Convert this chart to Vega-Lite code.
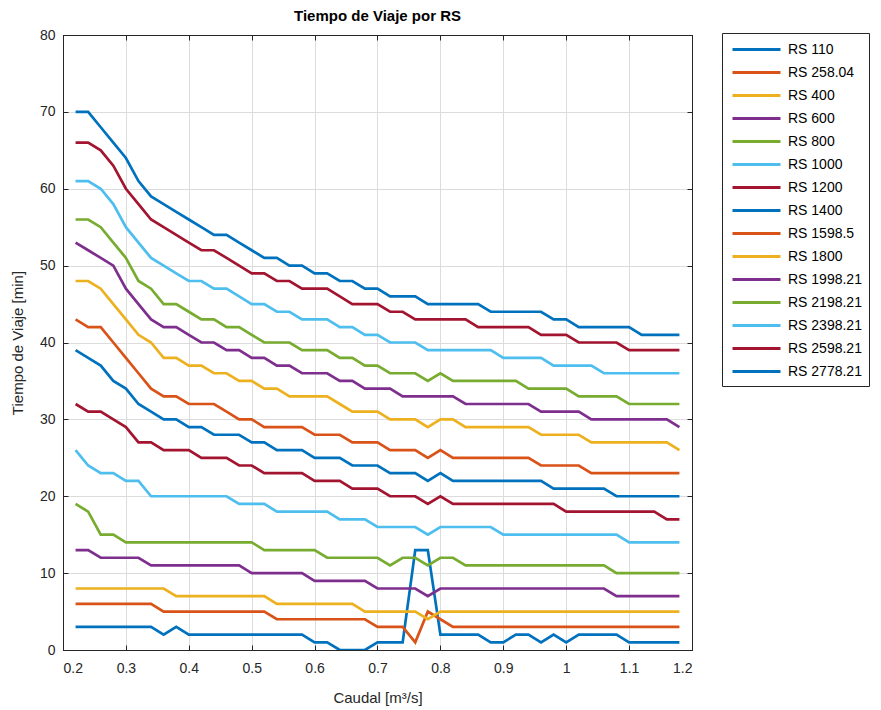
{
"$schema":"https://vega.github.io/schema/vega-lite/v6.json",
"width":629,"height":615,
"autosize":{"type":"none"},
"padding":{"left":63,"top":35,"right":189,"bottom":60},
"background":"white",
"title":{"text":"Tiempo de Viaje por RS","fontSize":15,"font":"Liberation Sans","fontWeight":"bold","color":"#000000","offset":4,"anchor":"middle"},
"data":{"values":[
{"s":"RS 110","q":0.22,"t":3},{"s":"RS 110","q":0.24,"t":3},{"s":"RS 110","q":0.26,"t":3},{"s":"RS 110","q":0.28,"t":3},{"s":"RS 110","q":0.3,"t":3},{"s":"RS 110","q":0.32,"t":3},{"s":"RS 110","q":0.34,"t":3},{"s":"RS 110","q":0.36,"t":2},{"s":"RS 110","q":0.38,"t":3},{"s":"RS 110","q":0.4,"t":2},{"s":"RS 110","q":0.42,"t":2},{"s":"RS 110","q":0.44,"t":2},{"s":"RS 110","q":0.46,"t":2},{"s":"RS 110","q":0.48,"t":2},{"s":"RS 110","q":0.5,"t":2},{"s":"RS 110","q":0.52,"t":2},{"s":"RS 110","q":0.54,"t":2},{"s":"RS 110","q":0.56,"t":2},{"s":"RS 110","q":0.58,"t":2},{"s":"RS 110","q":0.6,"t":1},{"s":"RS 110","q":0.62,"t":1},{"s":"RS 110","q":0.64,"t":0},{"s":"RS 110","q":0.66,"t":0},{"s":"RS 110","q":0.68,"t":0},{"s":"RS 110","q":0.7,"t":1},{"s":"RS 110","q":0.72,"t":1},{"s":"RS 110","q":0.74,"t":1},{"s":"RS 110","q":0.76,"t":13},{"s":"RS 110","q":0.78,"t":13},{"s":"RS 110","q":0.8,"t":2},{"s":"RS 110","q":0.82,"t":2},{"s":"RS 110","q":0.84,"t":2},{"s":"RS 110","q":0.86,"t":2},{"s":"RS 110","q":0.88,"t":1},{"s":"RS 110","q":0.9,"t":1},{"s":"RS 110","q":0.92,"t":2},{"s":"RS 110","q":0.94,"t":2},{"s":"RS 110","q":0.96,"t":1},{"s":"RS 110","q":0.98,"t":2},{"s":"RS 110","q":1,"t":1},{"s":"RS 110","q":1.02,"t":2},{"s":"RS 110","q":1.04,"t":2},{"s":"RS 110","q":1.06,"t":2},{"s":"RS 110","q":1.08,"t":2},{"s":"RS 110","q":1.1,"t":1},{"s":"RS 110","q":1.12,"t":1},{"s":"RS 110","q":1.14,"t":1},{"s":"RS 110","q":1.16,"t":1},{"s":"RS 110","q":1.18,"t":1},
{"s":"RS 258.04","q":0.22,"t":6},{"s":"RS 258.04","q":0.24,"t":6},{"s":"RS 258.04","q":0.26,"t":6},{"s":"RS 258.04","q":0.28,"t":6},{"s":"RS 258.04","q":0.3,"t":6},{"s":"RS 258.04","q":0.32,"t":6},{"s":"RS 258.04","q":0.34,"t":6},{"s":"RS 258.04","q":0.36,"t":5},{"s":"RS 258.04","q":0.38,"t":5},{"s":"RS 258.04","q":0.4,"t":5},{"s":"RS 258.04","q":0.42,"t":5},{"s":"RS 258.04","q":0.44,"t":5},{"s":"RS 258.04","q":0.46,"t":5},{"s":"RS 258.04","q":0.48,"t":5},{"s":"RS 258.04","q":0.5,"t":5},{"s":"RS 258.04","q":0.52,"t":5},{"s":"RS 258.04","q":0.54,"t":4},{"s":"RS 258.04","q":0.56,"t":4},{"s":"RS 258.04","q":0.58,"t":4},{"s":"RS 258.04","q":0.6,"t":4},{"s":"RS 258.04","q":0.62,"t":4},{"s":"RS 258.04","q":0.64,"t":4},{"s":"RS 258.04","q":0.66,"t":4},{"s":"RS 258.04","q":0.68,"t":4},{"s":"RS 258.04","q":0.7,"t":3},{"s":"RS 258.04","q":0.72,"t":3},{"s":"RS 258.04","q":0.74,"t":3},{"s":"RS 258.04","q":0.76,"t":1},{"s":"RS 258.04","q":0.78,"t":5},{"s":"RS 258.04","q":0.8,"t":4},{"s":"RS 258.04","q":0.82,"t":3},{"s":"RS 258.04","q":0.84,"t":3},{"s":"RS 258.04","q":0.86,"t":3},{"s":"RS 258.04","q":0.88,"t":3},{"s":"RS 258.04","q":0.9,"t":3},{"s":"RS 258.04","q":0.92,"t":3},{"s":"RS 258.04","q":0.94,"t":3},{"s":"RS 258.04","q":0.96,"t":3},{"s":"RS 258.04","q":0.98,"t":3},{"s":"RS 258.04","q":1,"t":3},{"s":"RS 258.04","q":1.02,"t":3},{"s":"RS 258.04","q":1.04,"t":3},{"s":"RS 258.04","q":1.06,"t":3},{"s":"RS 258.04","q":1.08,"t":3},{"s":"RS 258.04","q":1.1,"t":3},{"s":"RS 258.04","q":1.12,"t":3},{"s":"RS 258.04","q":1.14,"t":3},{"s":"RS 258.04","q":1.16,"t":3},{"s":"RS 258.04","q":1.18,"t":3},
{"s":"RS 400","q":0.22,"t":8},{"s":"RS 400","q":0.24,"t":8},{"s":"RS 400","q":0.26,"t":8},{"s":"RS 400","q":0.28,"t":8},{"s":"RS 400","q":0.3,"t":8},{"s":"RS 400","q":0.32,"t":8},{"s":"RS 400","q":0.34,"t":8},{"s":"RS 400","q":0.36,"t":8},{"s":"RS 400","q":0.38,"t":7},{"s":"RS 400","q":0.4,"t":7},{"s":"RS 400","q":0.42,"t":7},{"s":"RS 400","q":0.44,"t":7},{"s":"RS 400","q":0.46,"t":7},{"s":"RS 400","q":0.48,"t":7},{"s":"RS 400","q":0.5,"t":7},{"s":"RS 400","q":0.52,"t":7},{"s":"RS 400","q":0.54,"t":6},{"s":"RS 400","q":0.56,"t":6},{"s":"RS 400","q":0.58,"t":6},{"s":"RS 400","q":0.6,"t":6},{"s":"RS 400","q":0.62,"t":6},{"s":"RS 400","q":0.64,"t":6},{"s":"RS 400","q":0.66,"t":6},{"s":"RS 400","q":0.68,"t":5},{"s":"RS 400","q":0.7,"t":5},{"s":"RS 400","q":0.72,"t":5},{"s":"RS 400","q":0.74,"t":5},{"s":"RS 400","q":0.76,"t":5},{"s":"RS 400","q":0.78,"t":4},{"s":"RS 400","q":0.8,"t":5},{"s":"RS 400","q":0.82,"t":5},{"s":"RS 400","q":0.84,"t":5},{"s":"RS 400","q":0.86,"t":5},{"s":"RS 400","q":0.88,"t":5},{"s":"RS 400","q":0.9,"t":5},{"s":"RS 400","q":0.92,"t":5},{"s":"RS 400","q":0.94,"t":5},{"s":"RS 400","q":0.96,"t":5},{"s":"RS 400","q":0.98,"t":5},{"s":"RS 400","q":1,"t":5},{"s":"RS 400","q":1.02,"t":5},{"s":"RS 400","q":1.04,"t":5},{"s":"RS 400","q":1.06,"t":5},{"s":"RS 400","q":1.08,"t":5},{"s":"RS 400","q":1.1,"t":5},{"s":"RS 400","q":1.12,"t":5},{"s":"RS 400","q":1.14,"t":5},{"s":"RS 400","q":1.16,"t":5},{"s":"RS 400","q":1.18,"t":5},
{"s":"RS 600","q":0.22,"t":13},{"s":"RS 600","q":0.24,"t":13},{"s":"RS 600","q":0.26,"t":12},{"s":"RS 600","q":0.28,"t":12},{"s":"RS 600","q":0.3,"t":12},{"s":"RS 600","q":0.32,"t":12},{"s":"RS 600","q":0.34,"t":11},{"s":"RS 600","q":0.36,"t":11},{"s":"RS 600","q":0.38,"t":11},{"s":"RS 600","q":0.4,"t":11},{"s":"RS 600","q":0.42,"t":11},{"s":"RS 600","q":0.44,"t":11},{"s":"RS 600","q":0.46,"t":11},{"s":"RS 600","q":0.48,"t":11},{"s":"RS 600","q":0.5,"t":10},{"s":"RS 600","q":0.52,"t":10},{"s":"RS 600","q":0.54,"t":10},{"s":"RS 600","q":0.56,"t":10},{"s":"RS 600","q":0.58,"t":10},{"s":"RS 600","q":0.6,"t":9},{"s":"RS 600","q":0.62,"t":9},{"s":"RS 600","q":0.64,"t":9},{"s":"RS 600","q":0.66,"t":9},{"s":"RS 600","q":0.68,"t":9},{"s":"RS 600","q":0.7,"t":8},{"s":"RS 600","q":0.72,"t":8},{"s":"RS 600","q":0.74,"t":8},{"s":"RS 600","q":0.76,"t":8},{"s":"RS 600","q":0.78,"t":7},{"s":"RS 600","q":0.8,"t":8},{"s":"RS 600","q":0.82,"t":8},{"s":"RS 600","q":0.84,"t":8},{"s":"RS 600","q":0.86,"t":8},{"s":"RS 600","q":0.88,"t":8},{"s":"RS 600","q":0.9,"t":8},{"s":"RS 600","q":0.92,"t":8},{"s":"RS 600","q":0.94,"t":8},{"s":"RS 600","q":0.96,"t":8},{"s":"RS 600","q":0.98,"t":8},{"s":"RS 600","q":1,"t":8},{"s":"RS 600","q":1.02,"t":8},{"s":"RS 600","q":1.04,"t":8},{"s":"RS 600","q":1.06,"t":8},{"s":"RS 600","q":1.08,"t":7},{"s":"RS 600","q":1.1,"t":7},{"s":"RS 600","q":1.12,"t":7},{"s":"RS 600","q":1.14,"t":7},{"s":"RS 600","q":1.16,"t":7},{"s":"RS 600","q":1.18,"t":7},
{"s":"RS 800","q":0.22,"t":19},{"s":"RS 800","q":0.24,"t":18},{"s":"RS 800","q":0.26,"t":15},{"s":"RS 800","q":0.28,"t":15},{"s":"RS 800","q":0.3,"t":14},{"s":"RS 800","q":0.32,"t":14},{"s":"RS 800","q":0.34,"t":14},{"s":"RS 800","q":0.36,"t":14},{"s":"RS 800","q":0.38,"t":14},{"s":"RS 800","q":0.4,"t":14},{"s":"RS 800","q":0.42,"t":14},{"s":"RS 800","q":0.44,"t":14},{"s":"RS 800","q":0.46,"t":14},{"s":"RS 800","q":0.48,"t":14},{"s":"RS 800","q":0.5,"t":14},{"s":"RS 800","q":0.52,"t":13},{"s":"RS 800","q":0.54,"t":13},{"s":"RS 800","q":0.56,"t":13},{"s":"RS 800","q":0.58,"t":13},{"s":"RS 800","q":0.6,"t":13},{"s":"RS 800","q":0.62,"t":12},{"s":"RS 800","q":0.64,"t":12},{"s":"RS 800","q":0.66,"t":12},{"s":"RS 800","q":0.68,"t":12},{"s":"RS 800","q":0.7,"t":12},{"s":"RS 800","q":0.72,"t":11},{"s":"RS 800","q":0.74,"t":12},{"s":"RS 800","q":0.76,"t":12},{"s":"RS 800","q":0.78,"t":11},{"s":"RS 800","q":0.8,"t":12},{"s":"RS 800","q":0.82,"t":12},{"s":"RS 800","q":0.84,"t":11},{"s":"RS 800","q":0.86,"t":11},{"s":"RS 800","q":0.88,"t":11},{"s":"RS 800","q":0.9,"t":11},{"s":"RS 800","q":0.92,"t":11},{"s":"RS 800","q":0.94,"t":11},{"s":"RS 800","q":0.96,"t":11},{"s":"RS 800","q":0.98,"t":11},{"s":"RS 800","q":1,"t":11},{"s":"RS 800","q":1.02,"t":11},{"s":"RS 800","q":1.04,"t":11},{"s":"RS 800","q":1.06,"t":11},{"s":"RS 800","q":1.08,"t":10},{"s":"RS 800","q":1.1,"t":10},{"s":"RS 800","q":1.12,"t":10},{"s":"RS 800","q":1.14,"t":10},{"s":"RS 800","q":1.16,"t":10},{"s":"RS 800","q":1.18,"t":10},
{"s":"RS 1000","q":0.22,"t":26},{"s":"RS 1000","q":0.24,"t":24},{"s":"RS 1000","q":0.26,"t":23},{"s":"RS 1000","q":0.28,"t":23},{"s":"RS 1000","q":0.3,"t":22},{"s":"RS 1000","q":0.32,"t":22},{"s":"RS 1000","q":0.34,"t":20},{"s":"RS 1000","q":0.36,"t":20},{"s":"RS 1000","q":0.38,"t":20},{"s":"RS 1000","q":0.4,"t":20},{"s":"RS 1000","q":0.42,"t":20},{"s":"RS 1000","q":0.44,"t":20},{"s":"RS 1000","q":0.46,"t":20},{"s":"RS 1000","q":0.48,"t":19},{"s":"RS 1000","q":0.5,"t":19},{"s":"RS 1000","q":0.52,"t":19},{"s":"RS 1000","q":0.54,"t":18},{"s":"RS 1000","q":0.56,"t":18},{"s":"RS 1000","q":0.58,"t":18},{"s":"RS 1000","q":0.6,"t":18},{"s":"RS 1000","q":0.62,"t":18},{"s":"RS 1000","q":0.64,"t":17},{"s":"RS 1000","q":0.66,"t":17},{"s":"RS 1000","q":0.68,"t":17},{"s":"RS 1000","q":0.7,"t":16},{"s":"RS 1000","q":0.72,"t":16},{"s":"RS 1000","q":0.74,"t":16},{"s":"RS 1000","q":0.76,"t":16},{"s":"RS 1000","q":0.78,"t":15},{"s":"RS 1000","q":0.8,"t":16},{"s":"RS 1000","q":0.82,"t":16},{"s":"RS 1000","q":0.84,"t":16},{"s":"RS 1000","q":0.86,"t":16},{"s":"RS 1000","q":0.88,"t":16},{"s":"RS 1000","q":0.9,"t":15},{"s":"RS 1000","q":0.92,"t":15},{"s":"RS 1000","q":0.94,"t":15},{"s":"RS 1000","q":0.96,"t":15},{"s":"RS 1000","q":0.98,"t":15},{"s":"RS 1000","q":1,"t":15},{"s":"RS 1000","q":1.02,"t":15},{"s":"RS 1000","q":1.04,"t":15},{"s":"RS 1000","q":1.06,"t":15},{"s":"RS 1000","q":1.08,"t":15},{"s":"RS 1000","q":1.1,"t":14},{"s":"RS 1000","q":1.12,"t":14},{"s":"RS 1000","q":1.14,"t":14},{"s":"RS 1000","q":1.16,"t":14},{"s":"RS 1000","q":1.18,"t":14},
{"s":"RS 1200","q":0.22,"t":32},{"s":"RS 1200","q":0.24,"t":31},{"s":"RS 1200","q":0.26,"t":31},{"s":"RS 1200","q":0.28,"t":30},{"s":"RS 1200","q":0.3,"t":29},{"s":"RS 1200","q":0.32,"t":27},{"s":"RS 1200","q":0.34,"t":27},{"s":"RS 1200","q":0.36,"t":26},{"s":"RS 1200","q":0.38,"t":26},{"s":"RS 1200","q":0.4,"t":26},{"s":"RS 1200","q":0.42,"t":25},{"s":"RS 1200","q":0.44,"t":25},{"s":"RS 1200","q":0.46,"t":25},{"s":"RS 1200","q":0.48,"t":24},{"s":"RS 1200","q":0.5,"t":24},{"s":"RS 1200","q":0.52,"t":23},{"s":"RS 1200","q":0.54,"t":23},{"s":"RS 1200","q":0.56,"t":23},{"s":"RS 1200","q":0.58,"t":23},{"s":"RS 1200","q":0.6,"t":22},{"s":"RS 1200","q":0.62,"t":22},{"s":"RS 1200","q":0.64,"t":22},{"s":"RS 1200","q":0.66,"t":21},{"s":"RS 1200","q":0.68,"t":21},{"s":"RS 1200","q":0.7,"t":21},{"s":"RS 1200","q":0.72,"t":20},{"s":"RS 1200","q":0.74,"t":20},{"s":"RS 1200","q":0.76,"t":20},{"s":"RS 1200","q":0.78,"t":19},{"s":"RS 1200","q":0.8,"t":20},{"s":"RS 1200","q":0.82,"t":19},{"s":"RS 1200","q":0.84,"t":19},{"s":"RS 1200","q":0.86,"t":19},{"s":"RS 1200","q":0.88,"t":19},{"s":"RS 1200","q":0.9,"t":19},{"s":"RS 1200","q":0.92,"t":19},{"s":"RS 1200","q":0.94,"t":19},{"s":"RS 1200","q":0.96,"t":19},{"s":"RS 1200","q":0.98,"t":19},{"s":"RS 1200","q":1,"t":18},{"s":"RS 1200","q":1.02,"t":18},{"s":"RS 1200","q":1.04,"t":18},{"s":"RS 1200","q":1.06,"t":18},{"s":"RS 1200","q":1.08,"t":18},{"s":"RS 1200","q":1.1,"t":18},{"s":"RS 1200","q":1.12,"t":18},{"s":"RS 1200","q":1.14,"t":18},{"s":"RS 1200","q":1.16,"t":17},{"s":"RS 1200","q":1.18,"t":17},
{"s":"RS 1400","q":0.22,"t":39},{"s":"RS 1400","q":0.24,"t":38},{"s":"RS 1400","q":0.26,"t":37},{"s":"RS 1400","q":0.28,"t":35},{"s":"RS 1400","q":0.3,"t":34},{"s":"RS 1400","q":0.32,"t":32},{"s":"RS 1400","q":0.34,"t":31},{"s":"RS 1400","q":0.36,"t":30},{"s":"RS 1400","q":0.38,"t":30},{"s":"RS 1400","q":0.4,"t":29},{"s":"RS 1400","q":0.42,"t":29},{"s":"RS 1400","q":0.44,"t":28},{"s":"RS 1400","q":0.46,"t":28},{"s":"RS 1400","q":0.48,"t":28},{"s":"RS 1400","q":0.5,"t":27},{"s":"RS 1400","q":0.52,"t":27},{"s":"RS 1400","q":0.54,"t":26},{"s":"RS 1400","q":0.56,"t":26},{"s":"RS 1400","q":0.58,"t":26},{"s":"RS 1400","q":0.6,"t":25},{"s":"RS 1400","q":0.62,"t":25},{"s":"RS 1400","q":0.64,"t":25},{"s":"RS 1400","q":0.66,"t":24},{"s":"RS 1400","q":0.68,"t":24},{"s":"RS 1400","q":0.7,"t":24},{"s":"RS 1400","q":0.72,"t":23},{"s":"RS 1400","q":0.74,"t":23},{"s":"RS 1400","q":0.76,"t":23},{"s":"RS 1400","q":0.78,"t":22},{"s":"RS 1400","q":0.8,"t":23},{"s":"RS 1400","q":0.82,"t":22},{"s":"RS 1400","q":0.84,"t":22},{"s":"RS 1400","q":0.86,"t":22},{"s":"RS 1400","q":0.88,"t":22},{"s":"RS 1400","q":0.9,"t":22},{"s":"RS 1400","q":0.92,"t":22},{"s":"RS 1400","q":0.94,"t":22},{"s":"RS 1400","q":0.96,"t":22},{"s":"RS 1400","q":0.98,"t":21},{"s":"RS 1400","q":1,"t":21},{"s":"RS 1400","q":1.02,"t":21},{"s":"RS 1400","q":1.04,"t":21},{"s":"RS 1400","q":1.06,"t":21},{"s":"RS 1400","q":1.08,"t":20},{"s":"RS 1400","q":1.1,"t":20},{"s":"RS 1400","q":1.12,"t":20},{"s":"RS 1400","q":1.14,"t":20},{"s":"RS 1400","q":1.16,"t":20},{"s":"RS 1400","q":1.18,"t":20},
{"s":"RS 1598.5","q":0.22,"t":43},{"s":"RS 1598.5","q":0.24,"t":42},{"s":"RS 1598.5","q":0.26,"t":42},{"s":"RS 1598.5","q":0.28,"t":40},{"s":"RS 1598.5","q":0.3,"t":38},{"s":"RS 1598.5","q":0.32,"t":36},{"s":"RS 1598.5","q":0.34,"t":34},{"s":"RS 1598.5","q":0.36,"t":33},{"s":"RS 1598.5","q":0.38,"t":33},{"s":"RS 1598.5","q":0.4,"t":32},{"s":"RS 1598.5","q":0.42,"t":32},{"s":"RS 1598.5","q":0.44,"t":32},{"s":"RS 1598.5","q":0.46,"t":31},{"s":"RS 1598.5","q":0.48,"t":30},{"s":"RS 1598.5","q":0.5,"t":30},{"s":"RS 1598.5","q":0.52,"t":29},{"s":"RS 1598.5","q":0.54,"t":29},{"s":"RS 1598.5","q":0.56,"t":29},{"s":"RS 1598.5","q":0.58,"t":29},{"s":"RS 1598.5","q":0.6,"t":28},{"s":"RS 1598.5","q":0.62,"t":28},{"s":"RS 1598.5","q":0.64,"t":28},{"s":"RS 1598.5","q":0.66,"t":27},{"s":"RS 1598.5","q":0.68,"t":27},{"s":"RS 1598.5","q":0.7,"t":27},{"s":"RS 1598.5","q":0.72,"t":26},{"s":"RS 1598.5","q":0.74,"t":26},{"s":"RS 1598.5","q":0.76,"t":26},{"s":"RS 1598.5","q":0.78,"t":25},{"s":"RS 1598.5","q":0.8,"t":26},{"s":"RS 1598.5","q":0.82,"t":25},{"s":"RS 1598.5","q":0.84,"t":25},{"s":"RS 1598.5","q":0.86,"t":25},{"s":"RS 1598.5","q":0.88,"t":25},{"s":"RS 1598.5","q":0.9,"t":25},{"s":"RS 1598.5","q":0.92,"t":25},{"s":"RS 1598.5","q":0.94,"t":25},{"s":"RS 1598.5","q":0.96,"t":24},{"s":"RS 1598.5","q":0.98,"t":24},{"s":"RS 1598.5","q":1,"t":24},{"s":"RS 1598.5","q":1.02,"t":24},{"s":"RS 1598.5","q":1.04,"t":23},{"s":"RS 1598.5","q":1.06,"t":23},{"s":"RS 1598.5","q":1.08,"t":23},{"s":"RS 1598.5","q":1.1,"t":23},{"s":"RS 1598.5","q":1.12,"t":23},{"s":"RS 1598.5","q":1.14,"t":23},{"s":"RS 1598.5","q":1.16,"t":23},{"s":"RS 1598.5","q":1.18,"t":23},
{"s":"RS 1800","q":0.22,"t":48},{"s":"RS 1800","q":0.24,"t":48},{"s":"RS 1800","q":0.26,"t":47},{"s":"RS 1800","q":0.28,"t":45},{"s":"RS 1800","q":0.3,"t":43},{"s":"RS 1800","q":0.32,"t":41},{"s":"RS 1800","q":0.34,"t":40},{"s":"RS 1800","q":0.36,"t":38},{"s":"RS 1800","q":0.38,"t":38},{"s":"RS 1800","q":0.4,"t":37},{"s":"RS 1800","q":0.42,"t":37},{"s":"RS 1800","q":0.44,"t":36},{"s":"RS 1800","q":0.46,"t":36},{"s":"RS 1800","q":0.48,"t":35},{"s":"RS 1800","q":0.5,"t":35},{"s":"RS 1800","q":0.52,"t":34},{"s":"RS 1800","q":0.54,"t":34},{"s":"RS 1800","q":0.56,"t":33},{"s":"RS 1800","q":0.58,"t":33},{"s":"RS 1800","q":0.6,"t":33},{"s":"RS 1800","q":0.62,"t":33},{"s":"RS 1800","q":0.64,"t":32},{"s":"RS 1800","q":0.66,"t":31},{"s":"RS 1800","q":0.68,"t":31},{"s":"RS 1800","q":0.7,"t":31},{"s":"RS 1800","q":0.72,"t":30},{"s":"RS 1800","q":0.74,"t":30},{"s":"RS 1800","q":0.76,"t":30},{"s":"RS 1800","q":0.78,"t":29},{"s":"RS 1800","q":0.8,"t":30},{"s":"RS 1800","q":0.82,"t":30},{"s":"RS 1800","q":0.84,"t":29},{"s":"RS 1800","q":0.86,"t":29},{"s":"RS 1800","q":0.88,"t":29},{"s":"RS 1800","q":0.9,"t":29},{"s":"RS 1800","q":0.92,"t":29},{"s":"RS 1800","q":0.94,"t":29},{"s":"RS 1800","q":0.96,"t":28},{"s":"RS 1800","q":0.98,"t":28},{"s":"RS 1800","q":1,"t":28},{"s":"RS 1800","q":1.02,"t":28},{"s":"RS 1800","q":1.04,"t":27},{"s":"RS 1800","q":1.06,"t":27},{"s":"RS 1800","q":1.08,"t":27},{"s":"RS 1800","q":1.1,"t":27},{"s":"RS 1800","q":1.12,"t":27},{"s":"RS 1800","q":1.14,"t":27},{"s":"RS 1800","q":1.16,"t":27},{"s":"RS 1800","q":1.18,"t":26},
{"s":"RS 1998.21","q":0.22,"t":53},{"s":"RS 1998.21","q":0.24,"t":52},{"s":"RS 1998.21","q":0.26,"t":51},{"s":"RS 1998.21","q":0.28,"t":50},{"s":"RS 1998.21","q":0.3,"t":47},{"s":"RS 1998.21","q":0.32,"t":45},{"s":"RS 1998.21","q":0.34,"t":43},{"s":"RS 1998.21","q":0.36,"t":42},{"s":"RS 1998.21","q":0.38,"t":42},{"s":"RS 1998.21","q":0.4,"t":41},{"s":"RS 1998.21","q":0.42,"t":40},{"s":"RS 1998.21","q":0.44,"t":40},{"s":"RS 1998.21","q":0.46,"t":39},{"s":"RS 1998.21","q":0.48,"t":39},{"s":"RS 1998.21","q":0.5,"t":38},{"s":"RS 1998.21","q":0.52,"t":38},{"s":"RS 1998.21","q":0.54,"t":37},{"s":"RS 1998.21","q":0.56,"t":37},{"s":"RS 1998.21","q":0.58,"t":36},{"s":"RS 1998.21","q":0.6,"t":36},{"s":"RS 1998.21","q":0.62,"t":36},{"s":"RS 1998.21","q":0.64,"t":35},{"s":"RS 1998.21","q":0.66,"t":35},{"s":"RS 1998.21","q":0.68,"t":34},{"s":"RS 1998.21","q":0.7,"t":34},{"s":"RS 1998.21","q":0.72,"t":34},{"s":"RS 1998.21","q":0.74,"t":33},{"s":"RS 1998.21","q":0.76,"t":33},{"s":"RS 1998.21","q":0.78,"t":33},{"s":"RS 1998.21","q":0.8,"t":33},{"s":"RS 1998.21","q":0.82,"t":33},{"s":"RS 1998.21","q":0.84,"t":32},{"s":"RS 1998.21","q":0.86,"t":32},{"s":"RS 1998.21","q":0.88,"t":32},{"s":"RS 1998.21","q":0.9,"t":32},{"s":"RS 1998.21","q":0.92,"t":32},{"s":"RS 1998.21","q":0.94,"t":32},{"s":"RS 1998.21","q":0.96,"t":31},{"s":"RS 1998.21","q":0.98,"t":31},{"s":"RS 1998.21","q":1,"t":31},{"s":"RS 1998.21","q":1.02,"t":31},{"s":"RS 1998.21","q":1.04,"t":30},{"s":"RS 1998.21","q":1.06,"t":30},{"s":"RS 1998.21","q":1.08,"t":30},{"s":"RS 1998.21","q":1.1,"t":30},{"s":"RS 1998.21","q":1.12,"t":30},{"s":"RS 1998.21","q":1.14,"t":30},{"s":"RS 1998.21","q":1.16,"t":30},{"s":"RS 1998.21","q":1.18,"t":29},
{"s":"RS 2198.21","q":0.22,"t":56},{"s":"RS 2198.21","q":0.24,"t":56},{"s":"RS 2198.21","q":0.26,"t":55},{"s":"RS 2198.21","q":0.28,"t":53},{"s":"RS 2198.21","q":0.3,"t":51},{"s":"RS 2198.21","q":0.32,"t":48},{"s":"RS 2198.21","q":0.34,"t":47},{"s":"RS 2198.21","q":0.36,"t":45},{"s":"RS 2198.21","q":0.38,"t":45},{"s":"RS 2198.21","q":0.4,"t":44},{"s":"RS 2198.21","q":0.42,"t":43},{"s":"RS 2198.21","q":0.44,"t":43},{"s":"RS 2198.21","q":0.46,"t":42},{"s":"RS 2198.21","q":0.48,"t":42},{"s":"RS 2198.21","q":0.5,"t":41},{"s":"RS 2198.21","q":0.52,"t":40},{"s":"RS 2198.21","q":0.54,"t":40},{"s":"RS 2198.21","q":0.56,"t":40},{"s":"RS 2198.21","q":0.58,"t":39},{"s":"RS 2198.21","q":0.6,"t":39},{"s":"RS 2198.21","q":0.62,"t":39},{"s":"RS 2198.21","q":0.64,"t":38},{"s":"RS 2198.21","q":0.66,"t":38},{"s":"RS 2198.21","q":0.68,"t":37},{"s":"RS 2198.21","q":0.7,"t":37},{"s":"RS 2198.21","q":0.72,"t":36},{"s":"RS 2198.21","q":0.74,"t":36},{"s":"RS 2198.21","q":0.76,"t":36},{"s":"RS 2198.21","q":0.78,"t":35},{"s":"RS 2198.21","q":0.8,"t":36},{"s":"RS 2198.21","q":0.82,"t":35},{"s":"RS 2198.21","q":0.84,"t":35},{"s":"RS 2198.21","q":0.86,"t":35},{"s":"RS 2198.21","q":0.88,"t":35},{"s":"RS 2198.21","q":0.9,"t":35},{"s":"RS 2198.21","q":0.92,"t":35},{"s":"RS 2198.21","q":0.94,"t":34},{"s":"RS 2198.21","q":0.96,"t":34},{"s":"RS 2198.21","q":0.98,"t":34},{"s":"RS 2198.21","q":1,"t":34},{"s":"RS 2198.21","q":1.02,"t":33},{"s":"RS 2198.21","q":1.04,"t":33},{"s":"RS 2198.21","q":1.06,"t":33},{"s":"RS 2198.21","q":1.08,"t":33},{"s":"RS 2198.21","q":1.1,"t":32},{"s":"RS 2198.21","q":1.12,"t":32},{"s":"RS 2198.21","q":1.14,"t":32},{"s":"RS 2198.21","q":1.16,"t":32},{"s":"RS 2198.21","q":1.18,"t":32},
{"s":"RS 2398.21","q":0.22,"t":61},{"s":"RS 2398.21","q":0.24,"t":61},{"s":"RS 2398.21","q":0.26,"t":60},{"s":"RS 2398.21","q":0.28,"t":58},{"s":"RS 2398.21","q":0.3,"t":55},{"s":"RS 2398.21","q":0.32,"t":53},{"s":"RS 2398.21","q":0.34,"t":51},{"s":"RS 2398.21","q":0.36,"t":50},{"s":"RS 2398.21","q":0.38,"t":49},{"s":"RS 2398.21","q":0.4,"t":48},{"s":"RS 2398.21","q":0.42,"t":48},{"s":"RS 2398.21","q":0.44,"t":47},{"s":"RS 2398.21","q":0.46,"t":47},{"s":"RS 2398.21","q":0.48,"t":46},{"s":"RS 2398.21","q":0.5,"t":45},{"s":"RS 2398.21","q":0.52,"t":45},{"s":"RS 2398.21","q":0.54,"t":44},{"s":"RS 2398.21","q":0.56,"t":44},{"s":"RS 2398.21","q":0.58,"t":43},{"s":"RS 2398.21","q":0.6,"t":43},{"s":"RS 2398.21","q":0.62,"t":43},{"s":"RS 2398.21","q":0.64,"t":42},{"s":"RS 2398.21","q":0.66,"t":42},{"s":"RS 2398.21","q":0.68,"t":41},{"s":"RS 2398.21","q":0.7,"t":41},{"s":"RS 2398.21","q":0.72,"t":40},{"s":"RS 2398.21","q":0.74,"t":40},{"s":"RS 2398.21","q":0.76,"t":40},{"s":"RS 2398.21","q":0.78,"t":39},{"s":"RS 2398.21","q":0.8,"t":39},{"s":"RS 2398.21","q":0.82,"t":39},{"s":"RS 2398.21","q":0.84,"t":39},{"s":"RS 2398.21","q":0.86,"t":39},{"s":"RS 2398.21","q":0.88,"t":39},{"s":"RS 2398.21","q":0.9,"t":38},{"s":"RS 2398.21","q":0.92,"t":38},{"s":"RS 2398.21","q":0.94,"t":38},{"s":"RS 2398.21","q":0.96,"t":38},{"s":"RS 2398.21","q":0.98,"t":37},{"s":"RS 2398.21","q":1,"t":37},{"s":"RS 2398.21","q":1.02,"t":37},{"s":"RS 2398.21","q":1.04,"t":37},{"s":"RS 2398.21","q":1.06,"t":36},{"s":"RS 2398.21","q":1.08,"t":36},{"s":"RS 2398.21","q":1.1,"t":36},{"s":"RS 2398.21","q":1.12,"t":36},{"s":"RS 2398.21","q":1.14,"t":36},{"s":"RS 2398.21","q":1.16,"t":36},{"s":"RS 2398.21","q":1.18,"t":36},
{"s":"RS 2598.21","q":0.22,"t":66},{"s":"RS 2598.21","q":0.24,"t":66},{"s":"RS 2598.21","q":0.26,"t":65},{"s":"RS 2598.21","q":0.28,"t":63},{"s":"RS 2598.21","q":0.3,"t":60},{"s":"RS 2598.21","q":0.32,"t":58},{"s":"RS 2598.21","q":0.34,"t":56},{"s":"RS 2598.21","q":0.36,"t":55},{"s":"RS 2598.21","q":0.38,"t":54},{"s":"RS 2598.21","q":0.4,"t":53},{"s":"RS 2598.21","q":0.42,"t":52},{"s":"RS 2598.21","q":0.44,"t":52},{"s":"RS 2598.21","q":0.46,"t":51},{"s":"RS 2598.21","q":0.48,"t":50},{"s":"RS 2598.21","q":0.5,"t":49},{"s":"RS 2598.21","q":0.52,"t":49},{"s":"RS 2598.21","q":0.54,"t":48},{"s":"RS 2598.21","q":0.56,"t":48},{"s":"RS 2598.21","q":0.58,"t":47},{"s":"RS 2598.21","q":0.6,"t":47},{"s":"RS 2598.21","q":0.62,"t":47},{"s":"RS 2598.21","q":0.64,"t":46},{"s":"RS 2598.21","q":0.66,"t":45},{"s":"RS 2598.21","q":0.68,"t":45},{"s":"RS 2598.21","q":0.7,"t":45},{"s":"RS 2598.21","q":0.72,"t":44},{"s":"RS 2598.21","q":0.74,"t":44},{"s":"RS 2598.21","q":0.76,"t":43},{"s":"RS 2598.21","q":0.78,"t":43},{"s":"RS 2598.21","q":0.8,"t":43},{"s":"RS 2598.21","q":0.82,"t":43},{"s":"RS 2598.21","q":0.84,"t":43},{"s":"RS 2598.21","q":0.86,"t":42},{"s":"RS 2598.21","q":0.88,"t":42},{"s":"RS 2598.21","q":0.9,"t":42},{"s":"RS 2598.21","q":0.92,"t":42},{"s":"RS 2598.21","q":0.94,"t":42},{"s":"RS 2598.21","q":0.96,"t":41},{"s":"RS 2598.21","q":0.98,"t":41},{"s":"RS 2598.21","q":1,"t":41},{"s":"RS 2598.21","q":1.02,"t":40},{"s":"RS 2598.21","q":1.04,"t":40},{"s":"RS 2598.21","q":1.06,"t":40},{"s":"RS 2598.21","q":1.08,"t":40},{"s":"RS 2598.21","q":1.1,"t":39},{"s":"RS 2598.21","q":1.12,"t":39},{"s":"RS 2598.21","q":1.14,"t":39},{"s":"RS 2598.21","q":1.16,"t":39},{"s":"RS 2598.21","q":1.18,"t":39},
{"s":"RS 2778.21","q":0.22,"t":70},{"s":"RS 2778.21","q":0.24,"t":70},{"s":"RS 2778.21","q":0.26,"t":68},{"s":"RS 2778.21","q":0.28,"t":66},{"s":"RS 2778.21","q":0.3,"t":64},{"s":"RS 2778.21","q":0.32,"t":61},{"s":"RS 2778.21","q":0.34,"t":59},{"s":"RS 2778.21","q":0.36,"t":58},{"s":"RS 2778.21","q":0.38,"t":57},{"s":"RS 2778.21","q":0.4,"t":56},{"s":"RS 2778.21","q":0.42,"t":55},{"s":"RS 2778.21","q":0.44,"t":54},{"s":"RS 2778.21","q":0.46,"t":54},{"s":"RS 2778.21","q":0.48,"t":53},{"s":"RS 2778.21","q":0.5,"t":52},{"s":"RS 2778.21","q":0.52,"t":51},{"s":"RS 2778.21","q":0.54,"t":51},{"s":"RS 2778.21","q":0.56,"t":50},{"s":"RS 2778.21","q":0.58,"t":50},{"s":"RS 2778.21","q":0.6,"t":49},{"s":"RS 2778.21","q":0.62,"t":49},{"s":"RS 2778.21","q":0.64,"t":48},{"s":"RS 2778.21","q":0.66,"t":48},{"s":"RS 2778.21","q":0.68,"t":47},{"s":"RS 2778.21","q":0.7,"t":47},{"s":"RS 2778.21","q":0.72,"t":46},{"s":"RS 2778.21","q":0.74,"t":46},{"s":"RS 2778.21","q":0.76,"t":46},{"s":"RS 2778.21","q":0.78,"t":45},{"s":"RS 2778.21","q":0.8,"t":45},{"s":"RS 2778.21","q":0.82,"t":45},{"s":"RS 2778.21","q":0.84,"t":45},{"s":"RS 2778.21","q":0.86,"t":45},{"s":"RS 2778.21","q":0.88,"t":44},{"s":"RS 2778.21","q":0.9,"t":44},{"s":"RS 2778.21","q":0.92,"t":44},{"s":"RS 2778.21","q":0.94,"t":44},{"s":"RS 2778.21","q":0.96,"t":44},{"s":"RS 2778.21","q":0.98,"t":43},{"s":"RS 2778.21","q":1,"t":43},{"s":"RS 2778.21","q":1.02,"t":42},{"s":"RS 2778.21","q":1.04,"t":42},{"s":"RS 2778.21","q":1.06,"t":42},{"s":"RS 2778.21","q":1.08,"t":42},{"s":"RS 2778.21","q":1.1,"t":42},{"s":"RS 2778.21","q":1.12,"t":41},{"s":"RS 2778.21","q":1.14,"t":41},{"s":"RS 2778.21","q":1.16,"t":41},{"s":"RS 2778.21","q":1.18,"t":41}
]},
"layer":[
{"mark":{"type":"line","strokeWidth":2.7,"clip":true},
 "encoding":{
  "x":{"field":"q","type":"quantitative","scale":{"domain":[0.2,1.2],"nice":false,"zero":false},
       "axis":{"orient":"bottom","title":"Caudal [m³/s]","values":[0.2,0.3,0.4,0.5,0.6,0.7,0.8,0.9,1,1.1,1.2],"format":".1~f","labelPadding":11,"titlePadding":15,"ticks":false,"grid":false,"domain":true,"zindex":1}},
  "y":{"field":"t","type":"quantitative","scale":{"domain":[0,80],"nice":false,"zero":false},
       "axis":{"orient":"left","title":"Tiempo de Viaje [min]","values":[0,10,20,30,40,50,60,70,80],"labelPadding":8,"titlePadding":14,"ticks":false,"grid":false,"domain":true,"zindex":1}},
  "color":{"field":"s","type":"nominal",
    "scale":{"domain":["RS 110","RS 258.04","RS 400","RS 600","RS 800","RS 1000","RS 1200","RS 1400","RS 1598.5","RS 1800","RS 1998.21","RS 2198.21","RS 2398.21","RS 2598.21","RS 2778.21"],
             "range":["#0072BD","#D95319","#EDB120","#7E2F8E","#77AC30","#4DBEEE","#A2142F","#0072BD","#D95319","#EDB120","#7E2F8E","#77AC30","#4DBEEE","#A2142F","#0072BD"]},
    "legend":{"title":null,"orient":"none","legendX":659,"legendY":-2}}
 }},
{"mark":{"type":"line","opacity":0},
 "encoding":{
  "x":{"field":"q","type":"quantitative","axis":{"orient":"top","labels":false,"title":null,"grid":true,"values":[0.3,0.4,0.5,0.6,0.7,0.8,0.9,1,1.1],"ticks":false,"domain":true,"zindex":0}},
  "y":{"field":"t","type":"quantitative","axis":{"orient":"right","labels":false,"title":null,"grid":true,"values":[10,20,30,40,50,60,70],"ticks":false,"domain":true,"zindex":0}},
  "detail":{"field":"s"}
 }},
{"mark":{"type":"line","opacity":0},
 "encoding":{
  "x":{"field":"q","type":"quantitative","axis":{"orient":"bottom","offset":-5,"labels":false,"title":null,"grid":false,"domain":false,"tickSize":5,"values":[0.2,0.3,0.4,0.5,0.6,0.7,0.8,0.9,1,1.1,1.2],"zindex":1}},
  "y":{"field":"t","type":"quantitative","axis":{"orient":"left","offset":-5,"labels":false,"title":null,"grid":false,"domain":false,"tickSize":5,"values":[0,10,20,30,40,50,60,70,80],"zindex":1}},
  "detail":{"field":"s"}
 }},
{"mark":{"type":"line","opacity":0},
 "encoding":{
  "x":{"field":"q","type":"quantitative","axis":{"orient":"top","offset":-5,"labels":false,"title":null,"grid":false,"domain":false,"tickSize":5,"values":[0.2,0.3,0.4,0.5,0.6,0.7,0.8,0.9,1,1.1,1.2],"zindex":1}},
  "y":{"field":"t","type":"quantitative","axis":{"orient":"right","offset":-5,"labels":false,"title":null,"grid":false,"domain":false,"tickSize":5,"values":[0,10,20,30,40,50,60,70,80],"zindex":1}},
  "detail":{"field":"s"}
 }}
],
"resolve":{"axis":{"x":"independent","y":"independent"}},
"config":{
 "font":"Liberation Sans",
 "view":{"stroke":"#262626","strokeWidth":1},
 "axis":{"labelFont":"Liberation Sans","labelFontSize":14,"labelColor":"#262626","titleFont":"Liberation Sans","titleFontSize":15,"titleFontWeight":"normal","titleColor":"#262626","gridColor":"#dcdcdc","gridWidth":1,"domainColor":"#262626","domainWidth":1,"tickColor":"#262626","tickWidth":1},
 "legend":{"labelFont":"Liberation Sans","labelFontSize":14,"labelColor":"#000000","symbolType":"M-0.75,0H5.25","symbolSize":256,"symbolStrokeWidth":3,"rowPadding":6,"labelOffset":40,"padding":7,"strokeColor":"#262626","fillColor":"white"}
}
}
